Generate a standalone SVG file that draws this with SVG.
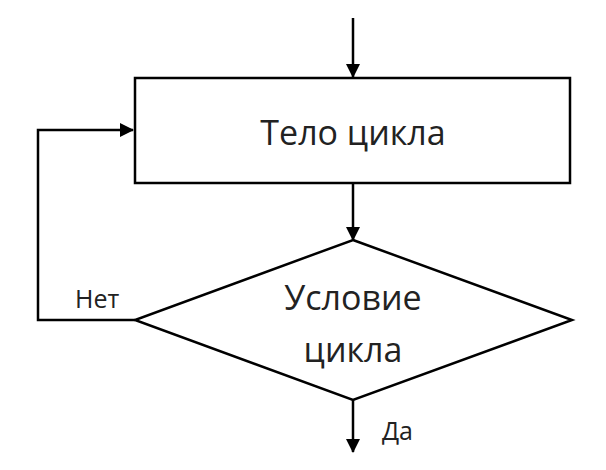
<svg xmlns="http://www.w3.org/2000/svg" width="606" height="470" viewBox="0 0 606 470">
<style>
.s{fill:none;stroke:#000;stroke-width:2.5}
text{font-family:"Open Sans","Liberation Sans",sans-serif;fill:#222}
</style>
<defs><marker id="a" markerWidth="10" markerHeight="10" refX="9" refY="5" orient="auto" markerUnits="userSpaceOnUse" viewBox="0 0 10 10"><path d="M0,0L10,5L0,10z" fill="#000"/></marker>
<marker id="b" markerWidth="14" markerHeight="14" refX="13" refY="7" orient="auto" markerUnits="userSpaceOnUse" viewBox="0 0 14 14"><path d="M0,0L14,7L0,14z" fill="#000"/></marker></defs>
<rect width="606" height="470" fill="#fff"/>
<g id="connectors">
<line class="s" x1="353" y1="18" x2="353" y2="77" marker-end="url(#b)"/>
<line class="s" x1="353" y1="183" x2="353" y2="240" marker-end="url(#b)"/>
<line class="s" x1="353" y1="400" x2="353" y2="452" marker-end="url(#b)"/>
<polyline class="s" points="135,320 38,320 38,130 133,130" marker-end="url(#b)"/>
</g>
<g id="body"><rect class="s" x="135" y="78" width="435" height="105"/>
<text x="353" y="145" font-size="34" text-anchor="middle">Тело цикла</text></g>
<g id="cond"><polygon class="s" points="353,240 572,320 353,400 135,320"/>
<text x="353" y="310" font-size="34" text-anchor="middle">Условие</text>
<text x="353" y="362" font-size="34" text-anchor="middle">цикла</text></g>
<text x="75" y="308" font-size="25">Нет</text>
<text x="382" y="440" font-size="25">Да</text>
</svg>
